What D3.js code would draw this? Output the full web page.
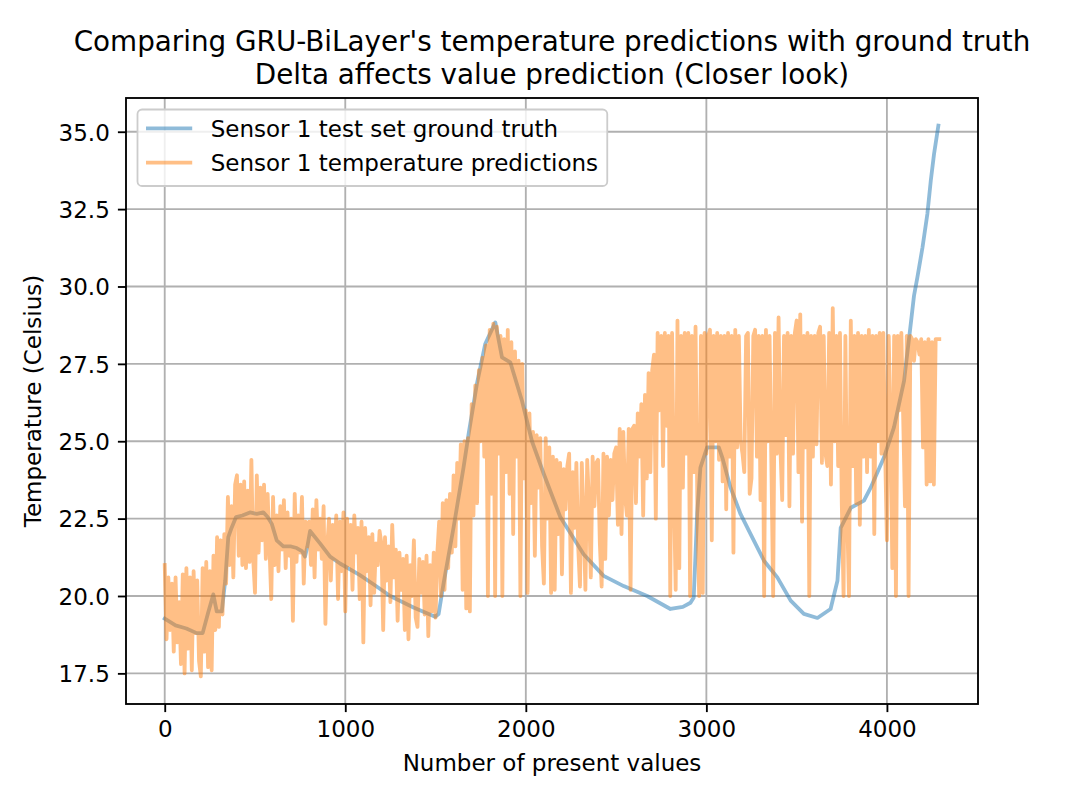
<!DOCTYPE html>
<html><head><meta charset="utf-8">
<script src="https://cdn.jsdelivr.net/npm/d3@7"></script>
<style>
body{margin:0;background:#fff}
svg{display:block}
text{font-family:"DejaVu Sans",sans-serif;fill:#000}
</style>
</head><body>
<svg id="chart" width="1066" height="800"></svg>
<script>
// ---------- data ----------
const titleLines = ["Comparing GRU-BiLayer's temperature predictions with ground truth",
                    "Delta affects value prediction (Closer look)"];
const xLabel = "Number of present values";
const yLabel = "Temperature (Celsius)";
const seriesNames = ["Sensor 1 test set ground truth", "Sensor 1 temperature predictions"];
const xTicks = [0, 1000, 2000, 3000, 4000];
const yTicks = [17.5, 20.0, 22.5, 25.0, 27.5, 30.0, 32.5, 35.0];

// ground truth (index, value)
const truthX = [0,60,120,177,210,240,269,288,316,335,352,370,395,430,472,510,546,570,593,620,
  657,700,731,760,777,790,805,860,916,971,1079,1156,1249,1378,1498,1517,1544,1600,1655,1683,
  1729,1775,1831,1868,1914,1979,2034,2099,2191,2320,2431,2542,2672,2801,2870,2912,2930,2949,2967,3004,
  3069,3088,3134,3189,3245,3319,3393,3467,3540,3615,3688,3726,3744,3800,3873,3910,3984,4039,4095,4132,
  4150,4169,4197,4224,4243,4261,4285];
const truthY = [19.27,19.05,18.95,18.8,18.8,19.45,20.05,19.5,19.5,20.5,21.9,22.2,22.55,22.6,22.7,22.65,22.7,22.55,22.33,21.8,
  21.6,21.6,21.55,21.45,21.27,21.6,22.1,21.7,21.27,21.05,20.68,20.38,20.0,19.63,19.33,19.42,20.39,22.22,24.15,25.23,
  26.85,28.14,28.84,27.71,27.55,26.3,25.0,23.95,22.55,21.35,20.65,20.32,20.0,19.58,19.65,19.78,19.95,22.65,24.15,24.8,
  24.8,24.48,23.5,22.65,22.0,21.14,20.6,19.85,19.42,19.29,19.58,20.49,22.2,22.85,23.08,23.5,24.48,25.45,26.95,28.79,
  29.7,30.3,31.26,32.34,33.42,34.28,35.2];

// predictions, one value every predStep samples
const predStep = 10;
const predY = [
  21.0,18.6,20.6,18.9,20.4,18.2,20.6,18.5,19.8,17.8,
  20.7,17.5,20.9,18.3,20.6,17.6,20.8,18.8,20.5,17.9,
  17.4,20.9,18.2,21.1,17.7,20.8,17.6,21.3,18.9,21.9,
  19.0,21.8,19.4,22.0,20.4,23.2,21.0,22.9,20.6,23.6,
  23.9,21.3,23.6,21.0,23.7,20.9,23.4,21.1,24.4,21.2,
  20.1,23.9,21.4,23.5,21.8,23.6,21.2,23.3,21.6,19.9,
  23.2,21.0,22.6,20.8,22.9,21.5,23.1,20.9,22.7,21.3,
  22.5,19.2,23.3,21.1,22.6,21.4,23.2,20.4,22.4,21.6,
  22.4,21.0,22.8,20.6,23.1,21.5,22.5,21.2,22.9,19.1,
  21.6,22.5,20.5,22.3,21.2,22.6,19.9,22.4,20.8,22.7,
  19.5,22.5,21.0,22.3,20.2,22.6,21.4,22.2,19.9,22.4,
  18.5,22.2,20.8,21.9,19.7,22.0,20.1,21.7,21.0,22.1,
  21.7,18.9,21.9,20.5,21.6,19.8,22.3,20.6,21.5,19.2,
  21.4,20.2,21.2,18.9,21.3,18.6,21.0,20.0,21.8,19.3,
  19.0,21.2,20.1,21.1,19.4,21.3,18.7,21.0,19.5,21.4,
  19.3,21.4,22.4,20.0,23.0,20.2,23.1,20.9,23.3,21.4,
  23.9,21.6,24.3,22.5,24.9,20.2,25.0,19.6,25.1,19.5,
  26.2,22.6,26.8,23.0,27.3,25.0,27.7,24.5,28.1,20.0,
  28.6,23.3,28.8,20.0,28.7,24.6,28.4,20.0,28.3,24.0,
  28.6,23.3,28.2,22.0,27.9,24.5,27.6,20.0,27.5,23.8,
  26.0,20.1,25.9,23.0,25.3,21.3,25.2,23.5,25.1,21.6,
  20.4,25.1,22.5,24.8,20.1,24.5,20.2,24.4,22.0,24.3,
  20.7,24.1,22.8,24.2,24.6,20.1,24.0,22.2,24.3,21.6,
  20.3,24.3,22.5,20.2,24.4,23.0,20.6,24.5,22.9,24.3,
  24.4,21.7,20.3,24.6,21.2,24.5,22.6,24.4,23.1,24.6,
  24.8,22.3,25.4,22.0,25.3,23.2,22.6,25.4,20.2,25.4,
  25.5,23.0,25.9,24.5,26.2,22.6,26.5,23.8,27.2,24.0,
  27.3,27.8,22.5,28.5,26.0,28.4,24.2,28.5,25.5,28.4,
  20.0,28.5,23.4,20.2,28.9,20.9,28.4,23.5,28.5,24.6,
  28.5,20.0,28.4,24.0,28.7,23.0,20.0,28.4,20.1,28.5,
  24.6,28.4,28.6,21.8,28.4,25.0,28.5,24.4,28.4,23.7,
  28.4,22.8,28.5,24.5,28.4,21.4,28.6,24.8,28.4,25.0,
  24.6,24.0,28.4,28.5,23.3,23.8,28.4,28.6,24.5,28.4,
  23.1,28.4,20.0,28.6,25.0,28.4,24.3,20.0,28.5,24.6,
  29.0,24.8,23.1,28.4,25.2,28.5,22.9,28.4,24.6,28.5,
  28.9,24.0,29.1,22.4,28.4,24.8,28.5,20.0,28.4,24.5,
  28.4,24.9,28.5,28.7,24.3,28.4,24.6,24.2,28.5,23.6,
  29.3,25.0,28.4,24.2,28.5,23.0,20.0,28.4,22.6,20.0,
  28.9,24.2,28.4,23.0,28.5,22.3,28.4,24.5,28.4,24.0,
  28.6,24.5,28.4,22.0,28.4,25.0,28.5,24.6,28.5,24.7,
  21.8,28.4,25.5,20.9,28.4,20.0,28.4,26.0,28.5,25.8,
  22.9,28.4,20.0,28.4,28.3,27.6,28.3,28.2,27.8,28.3,
  24.8,28.2,23.6,28.3,23.7,28.2,23.6,28.3,28.3,28.3
];

// ---------- layout ----------
const L = 126, R = 978, T = 98, B = 704;
const FS = 23, TFS = 27.8, LW = 3.8, GW = 1.85, TICK = 8.1, PAD = 8.1;
const blue = "#1f77b4", orange = "#ff7f0e";

const truth = truthX.map((v, i) => [v, truthY[i]]);
const pred = predY.map((v, i) => [i * predStep, v]);

const allX = truth.map(d => d[0]).concat(pred.map(d => d[0]));
const allY = truth.map(d => d[1]).concat(pred.map(d => d[1]));
const [xa, xb] = d3.extent(allX), [ya, yb] = d3.extent(allY);
const mx = (xb - xa) * 0.05, my = (yb - ya) * 0.05;

const x = d3.scaleLinear().domain([xa - mx, xb + mx]).range([L, R]);
const y = d3.scaleLinear().domain([ya - my, yb + my]).range([B, T]);

const svg = d3.select("#chart");
svg.append("rect").attr("width", 1066).attr("height", 800).attr("fill", "#fff");

svg.append("defs").append("clipPath").attr("id", "clip")
  .append("rect").attr("x", L).attr("y", T).attr("width", R - L).attr("height", B - T);

// grid
const grid = svg.append("g").attr("stroke", "#b0b0b0").attr("stroke-width", GW);
grid.selectAll("line.v").data(xTicks).join("line").attr("class", "v")
  .attr("x1", d => x(d)).attr("x2", d => x(d)).attr("y1", T).attr("y2", B);
grid.selectAll("line.h").data(yTicks).join("line").attr("class", "h")
  .attr("x1", L).attr("x2", R).attr("y1", d => y(d)).attr("y2", d => y(d));

// lines
const line = d3.line().x(d => x(d[0])).y(d => y(d[1]));
const plot = svg.append("g").attr("clip-path", "url(#clip)");
plot.append("path").datum(truth).attr("d", line)
  .attr("fill", "none").attr("stroke", blue).attr("stroke-opacity", 0.5)
  .attr("stroke-width", LW).attr("stroke-linejoin", "round").attr("stroke-linecap", "square");
plot.append("path").datum(pred).attr("d", line)
  .attr("fill", "none").attr("stroke", orange).attr("stroke-opacity", 0.5)
  .attr("stroke-width", LW).attr("stroke-linejoin", "round").attr("stroke-linecap", "square");

// axes
const xAxis = svg.append("g").attr("transform", `translate(0,${B})`)
  .call(d3.axisBottom(x).tickValues(xTicks).tickFormat(d3.format("d")).tickSize(TICK).tickPadding(PAD));
const yAxis = svg.append("g").attr("transform", `translate(${L},0)`)
  .call(d3.axisLeft(y).tickValues(yTicks).tickFormat(d3.format(".1f")).tickSize(TICK).tickPadding(PAD));
[xAxis, yAxis].forEach(g => {
  g.select(".domain").remove();
  g.attr("font-size", null).attr("font-family", null);
  g.selectAll(".tick line").attr("stroke", "#000").attr("stroke-width", GW);
  g.selectAll(".tick text").attr("font-size", FS).attr("fill", "#000");
});
yAxis.selectAll(".tick text").attr("dy", "0.36em");

// spines
svg.append("rect").attr("x", L).attr("y", T).attr("width", R - L).attr("height", B - T)
  .attr("fill", "none").attr("stroke", "#000").attr("stroke-width", GW);

// labels
svg.append("text").attr("x", (L + R) / 2).attr("y", 771).attr("text-anchor", "middle")
  .attr("font-size", FS).text(xLabel);
svg.append("text").attr("transform", `translate(41,${(T + B) / 2}) rotate(-90)`)
  .attr("text-anchor", "middle").attr("font-size", FS).text(yLabel);
titleLines.forEach((t, i) => {
  svg.append("text").attr("x", (L + R) / 2).attr("y", 50.7 + i * 33.4)
    .attr("text-anchor", "middle").attr("font-size", TFS).text(t);
});

// legend
const lg = svg.append("g");
const box = lg.append("rect").attr("x", 137.5).attr("y", 109.5).attr("height", 76.5)
  .attr("rx", 4.6).attr("ry", 4.6).attr("fill", "#fff").attr("fill-opacity", 0.8)
  .attr("stroke", "#cccccc").attr("stroke-width", 1.8);
let maxEnd = 0;
[blue, orange].forEach((c, i) => {
  const cy = 128.3 + i * 34.4;
  lg.append("line").attr("x1", 146).attr("x2", 192.2).attr("y1", cy).attr("y2", cy)
    .attr("stroke", c).attr("stroke-opacity", 0.5).attr("stroke-width", LW);
  const t = lg.append("text").attr("x", 210.7).attr("y", cy).attr("dy", "0.36em")
    .attr("font-size", FS).text(seriesNames[i]);
  const bb = t.node().getBBox();
  maxEnd = Math.max(maxEnd, bb.x + bb.width);
});
box.attr("width", maxEnd + 9.2 - 137.5);
</script>
</body></html>
